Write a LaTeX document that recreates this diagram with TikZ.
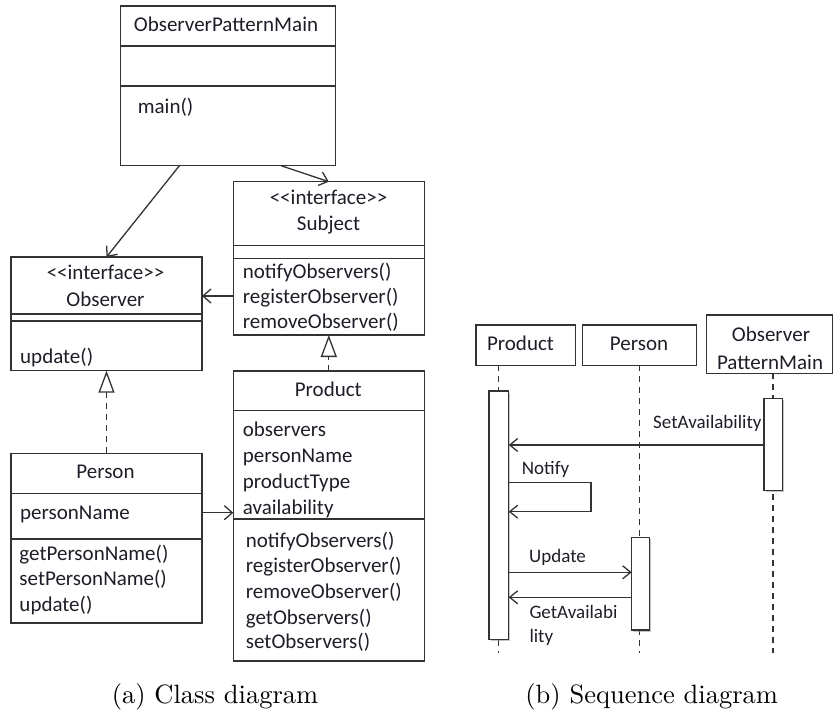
\documentclass[tikz,border=0pt]{standalone}
\usepackage{fontspec}
\newfontfamily\carl{Carlito}
\newfontfamily\capfont{lmroman10-regular.otf}
\usetikzlibrary{arrows.meta,calc,shadows}
\definecolor{linec}{HTML}{333333}
\definecolor{txtc}{HTML}{1E1E28}
\begin{document}
\begin{tikzpicture}[x=1pt,y=-1pt,
  box/.style={draw=linec, line width=1.5pt, fill=white, rectangle, inner sep=0pt, outer sep=0pt, anchor=north west},
  act/.style={box, drop shadow={shadow xshift=1.5pt, shadow yshift=-1.5pt, fill=black!45}},
  txt/.style={text=txtc, inner sep=0pt, font=\carl\fontsize{21}{25}\selectfont},
  lbl/.style={text=txtc, inner sep=0pt, font=\carl\fontsize{19}{23}\selectfont},
  divider/.style={draw=linec, line width=1.5pt},
  assoc/.style={draw=linec, line width=1.3pt, -{Straight Barb[length=8pt,width=14pt,line width=1.3pt]}},
  realize/.style={draw=linec, line width=1.3pt, dash pattern=on 6pt off 5pt, -{Triangle[length=22pt,width=16pt,line width=1.3pt,fill=white]}},
  lifeline/.style={draw=linec, line width=1.4pt, dash pattern=on 6pt off 5pt},
  msg/.style={draw=linec, line width=1.3pt, -{Straight Barb[length=8pt,width=13pt,line width=1.3pt]}},
  captxt/.style={inner sep=0pt, anchor=base, font=\capfont\fontsize{26.5}{30}\selectfont}
]
\fill[white] (0,0) rectangle (834,715);
\useasboundingbox (0,0) rectangle (834,715);

% ---------- class diagram ----------
\node[box, minimum width=215pt, minimum height=159.7pt] (opm) at (120.7,6) {};
\draw[divider] (opm.west |- 0,46) -- (opm.east |- 0,46);
\draw[divider] (opm.west |- 0,86) -- (opm.east |- 0,86);
\node[txt, anchor=base] (opmT) at (226,31.5) {ObserverPatternMain};
\node[txt, anchor=base west] (opmM) at (137.7,113) {main()};

\node[box, minimum width=191pt, minimum height=153.3pt] (subj) at (233.3,181.7) {};
\draw[divider] (subj.west |- 0,245.7) -- (subj.east |- 0,245.7);
\draw[divider] (subj.west |- 0,258.3) -- (subj.east |- 0,258.3);
\node[txt, anchor=base] (subjS) at (328.5,204) {<<interface>>};
\node[txt, anchor=base] (subjT) at (328.5,230.7) {Subject};
\node[txt, anchor=base west] (subjM1) at (242.7,278.3) {notifyObservers()};
\node[txt, anchor=base west] (subjM2) at (242.7,303.3) {registerObserver()};
\node[txt, anchor=base west] (subjM3) at (242.7,328.3) {removeObserver()};

\node[box, minimum width=191pt, minimum height=113.7pt] (obs) at (11,257) {};
\draw[divider] (obs.west |- 0,314) -- (obs.east |- 0,314);
\draw[divider] (obs.west |- 0,321) -- (obs.east |- 0,321);
\node[txt, anchor=base] (obsS) at (105.5,279.3) {<<interface>>};
\node[txt, anchor=base] (obsT) at (105.5,306) {Observer};
\node[txt, anchor=base west] (obsM1) at (20,363.3) {update()};

\node[box, minimum width=191pt, minimum height=290pt] (prod) at (233.3,371) {};
\draw[divider] (prod.west |- 0,410.3) -- (prod.east |- 0,410.3);
\draw[divider] (prod.west |- 0,519) -- (prod.east |- 0,519);
\node[txt, anchor=base] (prodT) at (328.3,396) {Product};
\node[txt, anchor=base west] (prodA1) at (242.7,436.7) {observers};
\node[txt, anchor=base west] (prodA2) at (242.7,462.7) {personName};
\node[txt, anchor=base west] (prodA3) at (242.7,488.7) {productType};
\node[txt, anchor=base west] (prodA4) at (242.7,514) {availability};
\node[txt, anchor=base west] (prodM1) at (245.7,547.3) {notifyObservers()};
\node[txt, anchor=base west] (prodM2) at (245.7,572.7) {registerObserver()};
\node[txt, anchor=base west] (prodM3) at (245.7,598.3) {removeObserver()};
\node[txt, anchor=base west] (prodM4) at (245.7,624) {getObservers()};
\node[txt, anchor=base west] (prodM5) at (245.7,648.3) {setObservers()};

\node[box, minimum width=191pt, minimum height=169.7pt] (pers) at (11,453.3) {};
\draw[divider] (pers.west |- 0,493.3) -- (pers.east |- 0,493.3);
\draw[divider] (pers.west |- 0,539) -- (pers.east |- 0,539);
\node[txt, anchor=base] (persT) at (105.5,478.3) {Person};
\node[txt, anchor=base west] (persA1) at (20,519.3) {personName};
\node[txt, anchor=base west] (persM1) at (19.3,560) {getPersonName()};
\node[txt, anchor=base west] (persM2) at (19.3,585.7) {setPersonName()};
\node[txt, anchor=base west] (persM3) at (19.3,611) {update()};

\draw[assoc] ($(opm.south west)!0.273!(opm.south east)$) -- (obs.north);
\draw[assoc] ($(opm.south west)!0.746!(opm.south east)$) -- (subj.north);
\draw[assoc] (subj.west |- 0,296) -- (obs.east |- 0,296);
\draw[realize] (pers.north) -- (obs.south);
\draw[realize] (prod.north) -- (subj.south);
\draw[assoc] (pers.east |- 0,512.7) -- (prod.west |- 0,512.7);

% ---------- sequence diagram ----------
\node[box, minimum width=99.7pt, minimum height=40.3pt] (sprod) at (476,325) {};
\node[txt, anchor=base] (sprodT) at (520.5,350) {Product};
\node[box, minimum width=114.4pt, minimum height=40.3pt] (spers) at (582.3,325) {};
\node[txt, anchor=base] (spersT) at (639,350) {Person};
\node[box, minimum width=126pt, minimum height=58.3pt] (sopm) at (706.7,315) {};
\node[txt, anchor=base] (sopmT1) at (771,341.7) {Observer};
\node[txt, anchor=base] (sopmT2) at (770,369.3) {PatternMain};

\draw[lifeline] ($(sprod.south west)!0.224!(sprod.south east)$) -- ++(0,288);
\draw[lifeline] (spers.south) -- ++(0,288);
\draw[lifeline] ($(sopm.south west)!0.526!(sopm.south east)$) -- ++(0,280);

\node[act, minimum width=19.7pt, minimum height=248.3pt] (aprod) at (489,391) {};
\node[act, minimum width=18.3pt, minimum height=92.4pt] (aopm) at (764,398.3) {};
\node[act, minimum width=17.6pt, minimum height=92.3pt] (apers) at (631.7,537.7) {};

\draw[msg] (aopm.west |- 0,445) -- (aprod.east |- 0,445);
\node[lbl, anchor=base east] (mSet) at (761.7,428.3) {SetAvailability};
\coordinate (loopR) at (591,497);
\draw[msg] (aprod.east |- 0,482.3) -| (loopR) |- (aprod.east |- 0,511.7);
\node[lbl, anchor=base west] (mNot) at (521.7,474) {Notify};
\draw[msg] (aprod.east |- 0,572.3) -- (apers.west |- 0,572.3);
\node[lbl, anchor=base west] (mUpd) at (529,562.3) {Update};
\draw[msg] (apers.west |- 0,597.3) -- (aprod.east |- 0,597.3);
\node[lbl, anchor=base west] (mGet1) at (529.3,618.3) {GetAvailabi};
\node[lbl, anchor=base west] (mGet2) at (529.3,642.7) {lity};

% ---------- captions ----------
\node[captxt] (capA) at (215,703) {(a) Class diagram};
\node[captxt] (capB) at (651.7,703) {(b) Sequence diagram};
\end{tikzpicture}
\end{document}
